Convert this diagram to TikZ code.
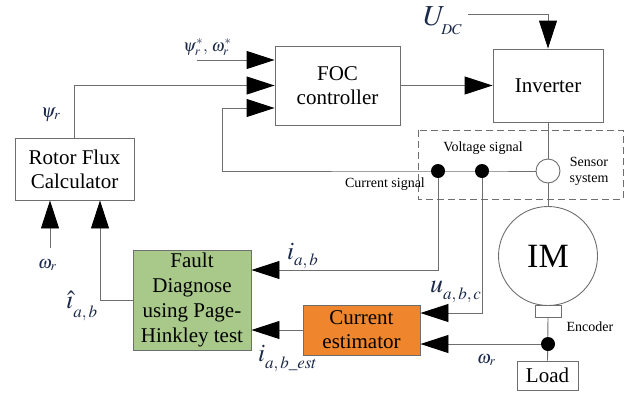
\documentclass[tikz,border=0pt]{standalone}
\usepackage{mathptmx}
\usepackage[no-math]{fontspec}
\setmainfont{Liberation Serif}
\usetikzlibrary{arrows.meta}

\definecolor{wire}{HTML}{6E6E6E}
\definecolor{ink}{HTML}{1B2A4A}
\definecolor{diagfill}{HTML}{A9C98B}
\definecolor{estfill}{HTML}{EF862E}

\begin{document}
\begin{tikzpicture}[x=1pt,y=-1pt,
  blk/.style={draw=wire, line width=0.9pt, inner sep=0pt, align=center,
    font=\fontsize{21}{24}\selectfont},
  sig/.style={draw=wire, line width=0.9pt},
  arr/.style={sig, -{Triangle[length=28pt,width=18pt,color=black,fill=black]}},
  dot/.style={circle, fill=black, minimum size=14pt, inner sep=0pt},
  small/.style={font=\fontsize{14}{16}\selectfont, align=center, inner sep=0pt},
  lbl/.style={text=ink, inner sep=0pt, anchor=base west}]

\useasboundingbox (0,0) rectangle (626,394);

% blocks
\node[blk, minimum width=125pt, minimum height=79pt] (foc) at (337.5,85.5)
  {FOC\\controller};
\node[blk, minimum width=110pt, minimum height=73pt] (inv) at (548,85.5)
  {Inverter};
\node[blk, minimum width=119pt, minimum height=62pt] (rf) at (74.5,169)
  {Rotor Flux\\Calculator};
\node[blk, fill=diagfill, minimum width=118pt, minimum height=100pt,
  font=\fontsize{21}{25}\selectfont] (fd) at (192,300)
  {Fault\\Diagnose\\using Page-\\Hinkley test};
\node[blk, fill=estfill, minimum width=117pt, minimum height=50pt] (est) at (361.5,330)
  {Current\\estimator};
\node[blk, minimum width=61pt, minimum height=29pt] (load) at (547.5,375.5) {Load};
\node[draw=wire, line width=0.9pt, fill=white, minimum width=26pt, minimum height=12pt,
  inner sep=0pt] (enc) at (548,311) {};
\node[draw=wire, line width=0.9pt, circle, minimum size=99pt, inner sep=0pt,
  font=\fontsize{34}{34}\selectfont] (im) at (548,256) {IM};

% sensor system
\draw[draw=wire, line width=0.9pt, dash pattern=on 7pt off 4pt] (418,130) rectangle (623,199);
\node[draw=wire, line width=0.9pt, circle, fill=white, minimum size=24pt, inner sep=0pt]
  (sens) at (548,171) {};
\node[small] (vs) at (483,148) {Voltage signal};
\node[small] (cs) at (385,184) {Current signal};
\node[small] (ss) at (589,171) {Sensor\\system};
\node[small] (encl) at (590,327) {Encoder};

% junctions and helper points
\coordinate (jc) at (438,171);
\coordinate (jv) at (482,171);
\coordinate (je) at (548,344);
\coordinate (refin) at (197,60);
\coordinate (fbk) at (222,108);
\coordinate (udc) at (468,14);
\coordinate (wrin) at (50,248);
\coordinate (y270) at (0,270);
\coordinate (y313) at (0,313);
\coordinate (y344) at (0,344);
\coordinate (y330) at (0,330);
\coordinate (x50) at (50,0);
\coordinate (x100) at (100,0);

% power path
\draw[sig] (inv.south) -- (sens.north);
\draw[sig] (sens.south) -- (im.north);
\draw[sig] (im.south) -- (enc.north);
\draw[sig] (enc.south) -- (load.north);

% controller inputs
\draw[arr] (refin) -- (refin -| foc.west);
\draw[arr] (rf.north) |- (foc.west);
\draw[arr] (sens.west) -- (jv) -- (jc) -| (fbk) -- (fbk -| foc.west);
\draw[arr] (foc.east) -- (inv.west);
\draw[arr] (udc) -| (inv.north);

% diagnosis paths
\draw[arr] (jc) |- (fd.east |- y270);
\draw[arr] (jv) |- (est.east |- y313);
\draw[arr] (je) -- (est.east |- y344);
\draw[arr] (est.west |- y330) -- (fd.east |- y330);
\draw[arr] (fd.west) -| (rf.south -| x100);
\draw[arr] (wrin) -- (rf.south -| x50);

\node[dot] at (jc) {};
\node[dot] at (jv) {};
\node[dot] at (je) {};

% signal labels
\node[lbl] (lref) at (183,51) {\fontsize{17}{17}\selectfont$\psi_r^{*},\,\omega_r^{*}$};
\node[lbl] (lpsi) at (41,117) {\fontsize{19}{19}\selectfont$\psi_r$};
\node[lbl] (lwr1) at (38,268) {\fontsize{18}{18}\selectfont$\omega_r$};
\node[lbl] (lwr2) at (477,363) {\fontsize{18}{18}\selectfont$\omega_r$};
\node[lbl] (ludc) at (423,25)
  {\fontsize{29}{29}\selectfont$U$\kern-4pt\raisebox{-9pt}{\fontsize{15}{15}\selectfont$DC$}};
\node[lbl] (luabc) at (430,292)
  {\fontsize{26}{26}\selectfont$u$\raisebox{-7pt}{\fontsize{17}{17}\selectfont$a,b,c$}};
\node[lbl] (liab) at (287,259)
  {\fontsize{25}{25}\selectfont$i$\raisebox{-6pt}{\fontsize{17}{17}\selectfont$a,b$}};
\node[lbl] (lest) at (258,361)
  {\fontsize{25}{25}\selectfont$i$\raisebox{-7pt}{\fontsize{17}{17}\selectfont$a,b\_est$}};
\node[lbl] (lhat) at (66,308)
  {\fontsize{26}{26}\selectfont$\hat{\imath}$\raisebox{-9pt}{\fontsize{17}{17}\selectfont$a,b$}};
\end{tikzpicture}
\end{document}
